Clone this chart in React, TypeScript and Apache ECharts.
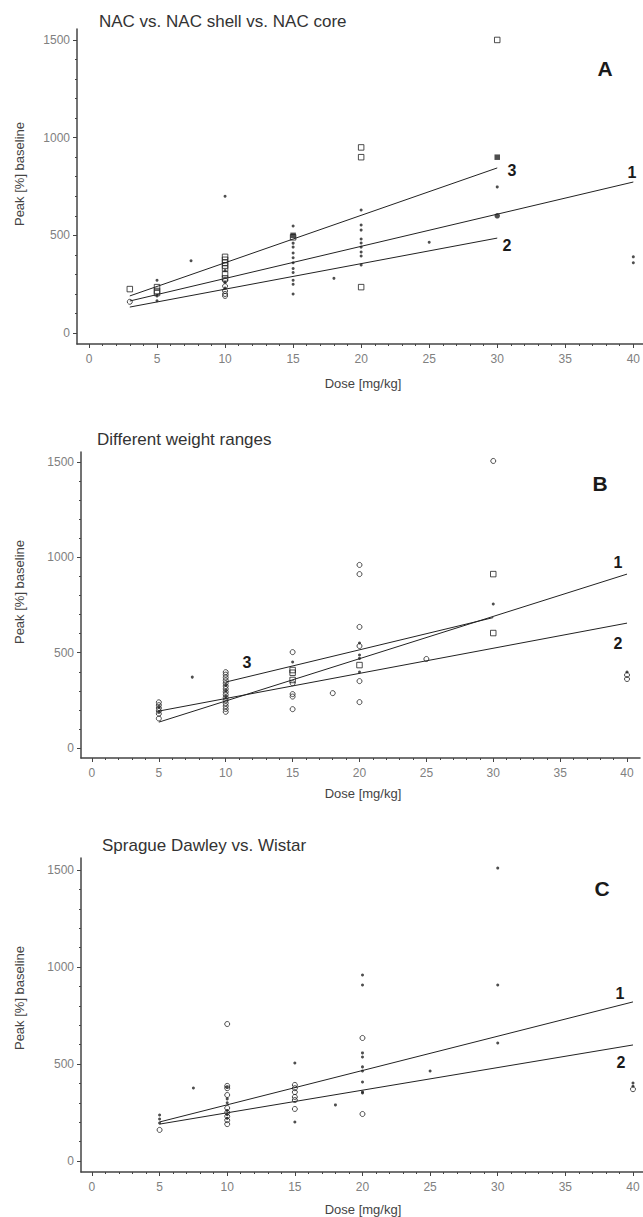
import React, { useEffect, useRef } from "react";
import * as echarts from "echarts";

// ---------- Data ----------
const panelTitles = ["NAC vs. NAC shell vs. NAC core", "Different weight ranges", "Sprague Dawley vs. Wistar"];
const panelLetters = ["A", "B", "C"];
const xTickValues = [0, 5, 10, 15, 20, 25, 30, 35, 40];
const xMinorValues = Array.from({ length: 41 }, (_, i) => i);
const yTickValues = [0, 500, 1000, 1500];
const yMinorValues = Array.from({ length: 16 }, (_, i) => i * 100);

// Panel A
const aSquares = [[3, 225], [5, 235], [5, 215], [5, 205], [10, 390], [10, 375], [10, 360], [10, 345], [10, 330], [10, 300], [10, 280], [15, 490], [20, 950], [20, 900], [20, 235], [30, 1500]];
const aFilledSquares = [[15, 500], [30, 900]];
const aCircles = [[3, 160], [10, 270], [10, 240], [10, 215], [10, 200], [10, 190]];
const aFilledCircles = [[30, 600]];
const aDots = [[5, 270], [5, 190], [5, 165], [7.5, 370], [10, 700], [10, 320], [10, 260], [10, 230], [15, 548], [15, 460], [15, 440], [15, 410], [15, 385], [15, 360], [15, 330], [15, 310], [15, 270], [15, 250], [15, 200], [18, 280], [20, 630], [20, 553], [20, 527], [20, 481], [20, 461], [20, 440], [20, 415], [20, 394], [20, 348], [25, 465], [30, 748], [40, 390], [40, 360]];
const aLine1 = [[3, 164], [40, 773]];
const aLine2 = [[3, 133], [30, 486]];
const aLine3 = [[3, 190], [30, 845]];

// Panel B
const bCircles = [[5, 240], [5, 225], [5, 210], [5, 195], [5, 180], [5, 155], [10, 398], [10, 385], [10, 370], [10, 355], [10, 340], [10, 325], [10, 310], [10, 295], [10, 280], [10, 265], [10, 250], [10, 235], [10, 220], [10, 205], [10, 190], [15, 503], [15, 340], [15, 283], [15, 270], [15, 204], [18, 288], [20, 960], [20, 912], [20, 635], [20, 535], [20, 351], [20, 241], [25, 467], [30, 1505], [40, 383], [40, 362]];
const bSquares = [[15, 409], [15, 395], [15, 357], [20, 435], [30, 912], [30, 603]];
const bDots = [[5, 215], [5, 190], [7.5, 372], [10, 330], [10, 300], [10, 270], [15, 451], [20, 551], [20, 488], [20, 470], [20, 399], [30, 755], [40, 399]];
const bLine1 = [[5, 136], [40, 912]];
const bLine2 = [[5, 194], [40, 655]];
const bLine3 = [[10, 346], [30, 684]];

// Panel C
const cCircles = [[5, 160], [10, 706], [10, 387], [10, 375], [10, 340], [10, 273], [10, 250], [10, 230], [10, 210], [10, 190], [15, 392], [15, 375], [15, 355], [15, 330], [15, 314], [15, 268], [20, 634], [20, 242], [40, 370]];
const cDots = [[5, 237], [5, 216], [5, 196], [7.5, 376], [10, 380], [10, 320], [10, 300], [10, 260], [10, 240], [10, 220], [15, 505], [15, 201], [18, 289], [20, 959], [20, 907], [20, 557], [20, 536], [20, 485], [20, 464], [20, 407], [20, 356], [20, 350], [25, 464], [30, 1510], [30, 907], [30, 608], [40, 402], [40, 385]];
const cLine1 = [[5, 201], [40, 820]];
const cLine2 = [[5, 190], [40, 598]];

const FONT = "Arial, 'Liberation Sans', Helvetica, sans-serif";
const INK = "#222";
const AXIS = "#444";
const TICKLBL = "#808080";

export default function App() {
  const ref = useRef<HTMLDivElement>(null);
  useEffect(() => {
    document.body.style.margin = "0";
    const chart = echarts.init(ref.current!, null, { renderer: "svg" });

    const grids = [
      { left: 77, top: 29, width: 566, height: 315 },
      { left: 81, top: 452, width: 559, height: 306 },
      { left: 81, top: 858, width: 562, height: 314 },
    ];
    const xRanges = [[-0.88, 40.7], [-0.82, 40.97], [-0.81, 40.74]];
    const yRanges = [[-56, 1556], [-52, 1552], [-57, 1562]];
    const plain = (v: number) => String(v);

    const xAxes: any[] = [];
    const yAxes: any[] = [];
    grids.forEach((g, i) => {
      xAxes.push({
        type: "value", gridIndex: i, min: xRanges[i][0], max: xRanges[i][1],
        splitLine: { show: false },
        axisLine: { show: true, onZero: false, lineStyle: { color: AXIS, width: 1.5 } },
        axisTick: { show: true, length: 4, lineStyle: { color: AXIS }, customValues: xTickValues },
        axisLabel: { color: TICKLBL, fontSize: 12, fontFamily: FONT, margin: 9, customValues: xTickValues, formatter: plain },
      });
      xAxes.push({
        type: "value", gridIndex: i, min: xRanges[i][0], max: xRanges[i][1], position: "bottom",
        splitLine: { show: false },
        axisLine: { show: false, onZero: false },
        axisTick: { show: true, length: 2, lineStyle: { color: AXIS }, customValues: xMinorValues },
        axisLabel: { show: false },
      });
      yAxes.push({
        type: "value", gridIndex: i, min: yRanges[i][0], max: yRanges[i][1],
        splitLine: { show: false },
        axisLine: { show: true, onZero: false, lineStyle: { color: AXIS, width: 1.5 } },
        axisTick: { show: true, length: 4, lineStyle: { color: AXIS }, customValues: yTickValues },
        axisLabel: { color: TICKLBL, fontSize: 12, fontFamily: FONT, margin: 7, customValues: yTickValues, formatter: plain },
      });
      yAxes.push({
        type: "value", gridIndex: i, min: yRanges[i][0], max: yRanges[i][1], position: "left",
        splitLine: { show: false },
        axisLine: { show: false, onZero: false },
        axisTick: { show: true, length: 2, lineStyle: { color: AXIS }, customValues: yMinorValues },
        axisLabel: { show: false },
      });
    });

    const openSquare = (data: number[][], p: number) => ({
      type: "scatter", xAxisIndex: p * 2, yAxisIndex: p * 2, data, symbol: "rect", symbolSize: 5.5,
      itemStyle: { color: "rgba(255,255,255,0)", borderColor: INK, borderWidth: 1 }, z: 3,
    });
    const filledSquare = (data: number[][], p: number) => ({
      type: "scatter", xAxisIndex: p * 2, yAxisIndex: p * 2, data, symbol: "rect", symbolSize: 5.5,
      itemStyle: { color: INK }, z: 3,
    });
    const openCircle = (data: number[][], p: number) => ({
      type: "scatter", xAxisIndex: p * 2, yAxisIndex: p * 2, data, symbol: "circle", symbolSize: 5,
      itemStyle: { color: "rgba(255,255,255,0)", borderColor: INK, borderWidth: 1 }, z: 3,
    });
    const filledCircle = (data: number[][], p: number, size = 5.5) => ({
      type: "scatter", xAxisIndex: p * 2, yAxisIndex: p * 2, data, symbol: "circle", symbolSize: size,
      itemStyle: { color: INK }, z: 3,
    });
    const dots = (data: number[][], p: number) => filledCircle(data, p, 3);
    const line = (data: number[][], p: number) => ({
      type: "line", xAxisIndex: p * 2, yAxisIndex: p * 2, data, symbol: "none",
      lineStyle: { color: INK, width: 1 }, z: 2,
    });

    const series = [
      openSquare(aSquares, 0), filledSquare(aFilledSquares, 0), openCircle(aCircles, 0), filledCircle(aFilledCircles, 0), dots(aDots, 0),
      line(aLine1, 0), line(aLine2, 0), line(aLine3, 0),
      openCircle(bCircles, 1), openSquare(bSquares, 1), dots(bDots, 1),
      line(bLine1, 1), line(bLine2, 1), line(bLine3, 1),
      openCircle(cCircles, 2), dots(cDots, 2),
      line(cLine1, 2), line(cLine2, 2),
    ];

    const txt = (x: number, y: number, s: string, size: number, bold = false) => ({
      type: "text", x, y,
      style: { text: s, fill: bold ? "#1a1a1a" : "#444", font: `${bold ? "bold " : ""}${size}px ${FONT}`, textAlign: "center", textVerticalAlign: "middle" },
    });
    const titleTxt = (x: number, y: number, s: string) => ({
      type: "text", x, y,
      style: { text: s, fill: "#333", font: `17px ${FONT}`, textAlign: "left", textVerticalAlign: "middle" },
    });
    const yName = (x: number, y: number) => ({
      type: "text", x, y, rotation: Math.PI / 2,
      style: { text: "Peak [%] baseline", fill: "#444", font: `13px ${FONT}`, textAlign: "center", textVerticalAlign: "middle" },
    });

    const graphic = [
      titleTxt(99, 21, panelTitles[0]),
      titleTxt(97, 439, panelTitles[1]),
      titleTxt(102, 845, panelTitles[2]),
      txt(605, 68, panelLetters[0], 21, true),
      txt(600, 483, panelLetters[1], 21, true),
      txt(602, 888, panelLetters[2], 21, true),
      yName(19, 174), yName(19, 592), yName(19, 998),
      txt(363, 383, "Dose [mg/kg]", 13),
      txt(363, 793, "Dose [mg/kg]", 13),
      txt(363, 1209, "Dose [mg/kg]", 13),
      txt(632, 172, "1", 16, true), txt(507, 245, "2", 16, true), txt(512, 170, "3", 16, true),
      txt(618, 562, "1", 16, true), txt(618, 643, "2", 16, true), txt(247, 662, "3", 16, true),
      txt(620, 993, "1", 16, true), txt(621, 1062, "2", 16, true),
    ];

    chart.setOption({
      animation: false,
      backgroundColor: "#fff",
      grid: grids.map((g) => ({ ...g, containLabel: false })),
      xAxis: xAxes,
      yAxis: yAxes,
      series,
      graphic,
    });
    return () => chart.dispose();
  }, []);
  return <div ref={ref} style={{ width: 643, height: 1217 }} />;
}
